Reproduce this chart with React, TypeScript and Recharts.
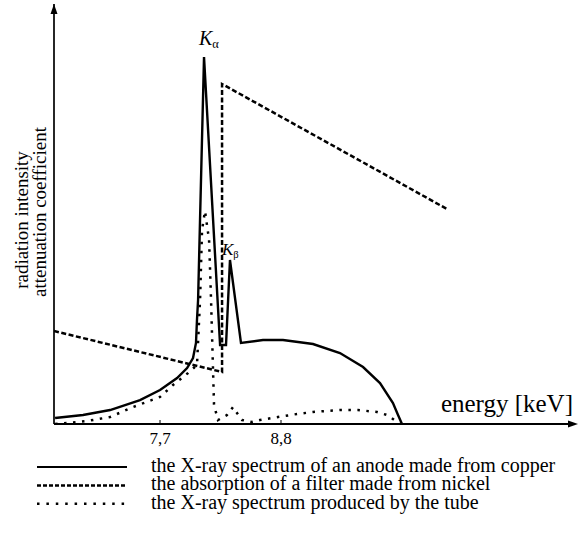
import React from "react";
import { LineChart, Line, XAxis, YAxis, ReferenceDot, ReferenceLine } from "recharts";

// energy [keV] / relative intensity (0-100) for each curve
const anodeEnergy = [6.746, 7.0, 7.246, 7.518, 7.7, 7.855, 7.946, 8.0, 8.027, 8.036, 8.046, 8.1, 8.246, 8.3, 8.336, 8.436, 8.636, 8.818, 9.091, 9.336, 9.546, 9.7, 9.818, 9.864, 9.9];
const anodeValue = [1.43, 2.14, 3.33, 5.71, 8.1, 10.95, 13.33, 15.71, 19.29, 24.76, 29.52, 87.38, 18.81, 18.81, 39.05, 19.29, 20.0, 20.0, 19.05, 16.9, 13.57, 9.76, 5.0, 2.14, 0];

const nickelEnergy = [6.736, 8.264, 8.264, 10.309];
const nickelValue = [22.14, 12.38, 80.95, 51.19];

const tubeEnergy = [6.746, 6.855, 7.036, 7.246, 7.455, 7.7, 7.818, 7.955, 8.036, 8.064, 8.082, 8.109, 8.146, 8.164, 8.182, 8.191, 8.227, 8.309, 8.364, 8.4, 8.446, 8.536, 8.609, 8.773, 8.946, 9.091, 9.336, 9.5, 9.673, 9.764, 9.818, 9.882];
const tubeValue = [0, 0.24, 0.71, 1.67, 4.05, 6.43, 9.29, 12.14, 14.05, 29.52, 46.19, 50.71, 43.81, 29.52, 12.86, 4.52, 0.95, 2.14, 4.05, 2.62, 0.95, 0.48, 0.95, 1.67, 2.38, 2.86, 3.33, 3.33, 2.86, 2.14, 1.19, 0];

const tickValues = [7.7, 8.8];
const legendLabels = [
  "the X-ray spectrum of an anode made from copper",
  "the absorption of  a filter made from nickel",
  "the X-ray spectrum produced by the tube",
];

const zip = (xs: number[], ys: number[]) => xs.map((e, i) => ({ e, v: ys[i] }));
const anodeData = zip(anodeEnergy, anodeValue);
const nickelData = zip(nickelEnergy, nickelValue);
const tubeData = zip(tubeEnergy, tubeValue);

const FONT = "Liberation Serif, Times New Roman, serif";
const X_MIN = 6.736;

const EnergyTick = (props: any) => {
  const { x, y, payload } = props;
  return (
    <g>
      <line x1={x} x2={x} y1={y} y2={y - 4} stroke="#000" strokeWidth={1} />
      <text x={x} y={y + 20} textAnchor="middle" fontSize={17} style={{ fontFamily: FONT }} fill="#000">
        {String(payload.value).replace(".", ",")}
      </text>
    </g>
  );
};

const peakLabel = (sub: string, size: number, dx: number, dy: number) => (props: any) => (
  <text x={props.cx + dx} y={props.cy + dy} fontSize={size} fontStyle="italic" style={{ fontFamily: FONT }} fill="#000">
    K
    <tspan fontSize={size * 0.62} fontStyle="normal" dy={3}>
      {sub}
    </tspan>
  </text>
);

const legendStyles = [
  { dash: undefined, width: 2.2 },
  { dash: "4 2", width: 2.5 },
  { dash: "2.5 6.9", width: 2.5 },
];

export default function App() {
  return (
    <div style={{ position: "absolute", left: 0, top: 0, width: 579, height: 538, background: "#fff" }}>
      <LineChart width={579} height={538} data={anodeData} margin={{ top: 4, right: 5, left: 54, bottom: 84 }}>
        <XAxis
          dataKey="e"
          type="number"
          domain={[X_MIN, 11.464]}
          allowDataOverflow
          ticks={tickValues}
          height={30}
          tickSize={0}
          tickMargin={0}
          tickLine={false}
          axisLine={{ stroke: "#000", strokeWidth: 2 }}
          tick={<EnergyTick />}
        />
        <YAxis type="number" domain={[0, 100]} allowDataOverflow hide />
        <ReferenceLine x={X_MIN} stroke="#000" strokeWidth={1.7} />
        <Line data={tubeData} dataKey="v" type="linear" stroke="#000" strokeWidth={2.5} strokeDasharray="2.5 6.5" dot={false} isAnimationActive={false} />
        <Line data={nickelData} dataKey="v" type="linear" stroke="#000" strokeWidth={2.5} strokeDasharray="5 2.5" dot={false} isAnimationActive={false} />
        <Line data={anodeData} dataKey="v" type="linear" stroke="#000" strokeWidth={2.4} dot={false} isAnimationActive={false} />
        <ReferenceDot x={8.1} y={87.38} r={0} shape={peakLabel("α", 20, -5, -12)} />
        <ReferenceDot x={8.336} y={39.05} r={0} shape={peakLabel("β", 17, -8, -5)} />
      </LineChart>
      <svg width={579} height={538} style={{ position: "absolute", left: 0, top: 0, pointerEvents: "none", fontFamily: FONT }}>
        <polygon points="54,4 50.5,14 57.5,14" fill="#000" />
        <polygon points="578,424 568,420.5 568,427.5" fill="#000" />
        <text x={573} y={412} textAnchor="end" fontSize={25} fill="#000">
          energy [keV]
        </text>
        <text transform="translate(28,220) rotate(-90)" textAnchor="middle" fontSize={19} fill="#000">
          radiation intensity
        </text>
        <text transform="translate(46,212) rotate(-90)" textAnchor="middle" fontSize={19} fill="#000">
          attenuation coefficient
        </text>
        {legendLabels.map((label, i) => (
          <g key={label}>
            <line
              x1={37}
              x2={127}
              y1={467 + i * 18.4}
              y2={467 + i * 18.4}
              stroke="#000"
              strokeWidth={legendStyles[i].width}
              strokeDasharray={legendStyles[i].dash}
            />
            <text x={151} y={472 + i * 18.4} fontSize={20} fill="#000">
              {label}
            </text>
          </g>
        ))}
      </svg>
    </div>
  );
}
